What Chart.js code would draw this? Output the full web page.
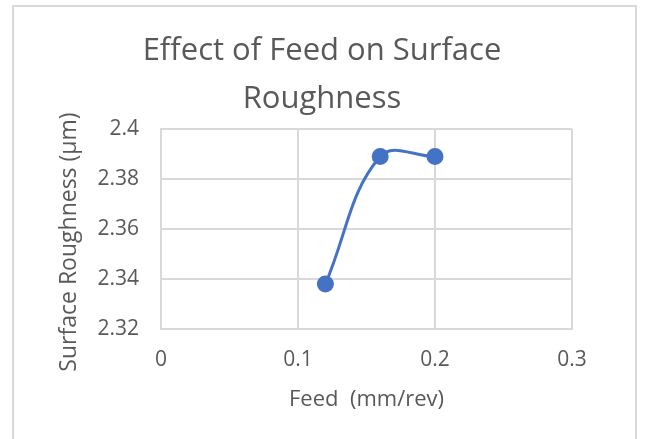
<!DOCTYPE html>
<html>
<head>
<meta charset="utf-8">
<script src="https://cdn.jsdelivr.net/npm/chart.js@4"></script>
<style>
  html, body { margin: 0; padding: 0; background: #fff; }
  #wrap { width: 646px; height: 439px; }
</style>
</head>
<body>
<div id="wrap"><canvas id="roughness-chart"></canvas></div>
<script>
const feed = [0.12, 0.16, 0.2];
const roughness = [2.338, 2.389, 2.389];
const xTicks = [0, 0.1, 0.2, 0.3];
const yTicks = [2.32, 2.34, 2.36, 2.38, 2.4];

const gray = '#595959';
const gridColor = '#d9d9d9';

// light frame round the whole chart, like the Excel chart area
const frame = {
  id: 'frame',
  beforeDraw(chart) {
    const ctx = chart.ctx;
    ctx.save();
    ctx.strokeStyle = gridColor;
    ctx.lineWidth = 2;
    ctx.strokeRect(13, 6, 623, 460);
    ctx.restore();
  },
};

// y title sits a bit lower than the axis centre in the reference
const yTitle = {
  id: 'yTitle',
  afterDraw(chart) {
    const ctx = chart.ctx;
    ctx.save();
    ctx.translate(69, 242);
    ctx.rotate(-Math.PI / 2);
    ctx.font = '23px "Open Sans"';
    ctx.fillStyle = gray;
    ctx.textAlign = 'center';
    ctx.textBaseline = 'middle';
    ctx.fillText('Surface Roughness (µm)', 0, 0);
    ctx.restore();
  },
};

const roughnessChart = new Chart('roughness-chart', {
  type: 'line',
  data: {
    datasets: [{
      label: 'Surface Roughness',
      data: feed.map((x, i) => ({ x: x, y: roughness[i] })),
      borderColor: '#4472c4',
      backgroundColor: '#4472c4',
      borderWidth: 3,
      pointRadius: 7,
      pointHoverRadius: 7,
      tension: 0.4,
      fill: false,
    }],
  },
  options: {
    responsive: true,
    maintainAspectRatio: false,
    animation: false,
    layout: {
      padding: { left: 72, right: 74, top: 0, bottom: 0 },
    },
    scales: {
      x: {
        type: 'linear',
        min: 0,
        max: 0.3,
        afterBuildTicks: (scale) => { scale.ticks = xTicks.map((v) => ({ value: v })); },
        afterFit: (scale) => { scale.height = 110; },
        ticks: {
          color: gray,
          font: { family: 'Open Sans', size: 21 },
          padding: 18,
          maxRotation: 0,
          callback: (v) => String(v),
        },
        grid: { color: gridColor, lineWidth: 2, drawTicks: false },
        border: { color: gridColor, width: 2 },
        title: {
          display: true,
          text: 'Feed  (mm/rev)',
          color: gray,
          font: { family: 'Open Sans', size: 22 },
          padding: { top: 0, bottom: 26 },
        },
      },
      y: {
        min: 2.32,
        max: 2.4,
        afterBuildTicks: (scale) => { scale.ticks = yTicks.map((v) => ({ value: v })); },
        afterFit: (scale) => { scale.width = 89; },
        ticks: {
          color: gray,
          font: { family: 'Open Sans', size: 21 },
          padding: 22,
          callback: (v) => String(v),
        },
        grid: { color: gridColor, lineWidth: 2, drawTicks: false },
        border: { color: gridColor, width: 2 },
      },
    },
    plugins: {
      legend: { display: false },
      tooltip: { enabled: false },
      title: {
        display: true,
        text: ['Effect of Feed on Surface', 'Roughness'],
        color: gray,
        font: { family: 'Open Sans', size: 31, weight: 'normal', lineHeight: 1.55 },
        padding: { top: 27, bottom: 6 },
      },
    },
  },
  plugins: [frame, yTitle],
});
</script>
</body>
</html>
